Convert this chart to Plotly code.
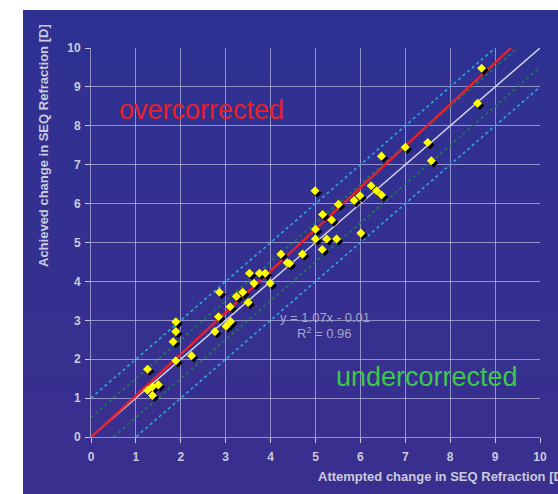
import plotly.graph_objects as go

# ---- data ----
attempted = [1.26, 1.26, 1.37, 1.50, 1.37, 1.89, 1.83, 1.89, 1.89, 2.24,
             2.76, 2.84, 2.86, 3.01, 3.11, 3.10, 3.24, 3.38, 3.50, 3.53,
             3.63, 3.75, 3.88, 3.99, 4.23, 4.37, 4.42, 4.71, 4.99, 5.00,
             5.00, 5.15, 5.16, 5.25, 5.36, 5.47, 5.51, 5.86, 5.99, 6.01,
             6.24, 6.36, 6.47, 6.47, 7.00, 7.50, 7.58, 8.61, 8.70]
achieved = [1.74, 1.20, 1.29, 1.34, 1.07, 1.96, 2.45, 2.71, 2.96, 2.09,
            2.71, 3.09, 3.72, 2.85, 2.97, 3.35, 3.61, 3.72, 3.46, 4.21,
            3.95, 4.21, 4.21, 3.95, 4.70, 4.48, 4.46, 4.70, 6.33, 5.34,
            5.09, 4.82, 5.72, 5.09, 5.58, 5.09, 5.98, 6.08, 6.20, 5.24,
            6.46, 6.33, 6.22, 7.22, 7.45, 7.57, 7.10, 8.58, 9.48]
line_x = [0, 10]
slope, intercept = 1.07, -0.01
inner_band = 0.5
outer_band = 1.0
tick_vals = list(range(0, 11))

GRID = "rgba(210,210,240,0.6)"
TXT = "#CACADC"
FONT = "Liberation Sans"

fig = go.Figure()

# reference bands
for off, col in [(outer_band, "#2AA8E0"), (-outer_band, "#2AA8E0"),
                 (inner_band, "#1E7A55"), (-inner_band, "#1E7A55")]:
    fig.add_trace(go.Scatter(x=line_x, y=[v + off for v in line_x], mode="lines",
                             line=dict(color=col, width=1.6, dash="dot"),
                             hoverinfo="skip", showlegend=False))

# identity line
fig.add_trace(go.Scatter(x=line_x, y=line_x, mode="lines",
                         line=dict(color="#D2D2EA", width=1.4),
                         hoverinfo="skip", showlegend=False))
# regression line
fig.add_trace(go.Scatter(x=line_x, y=[slope * v + intercept for v in line_x], mode="lines",
                         line=dict(color="#E8202A", width=2.4),
                         hoverinfo="skip", showlegend=False))

# marker shadows
fig.add_trace(go.Scatter(x=[v + 0.05 for v in attempted], y=[v - 0.055 for v in achieved],
                         mode="markers",
                         marker=dict(symbol="diamond", size=7, color="#000000"),
                         hoverinfo="skip", showlegend=False))
# markers
fig.add_trace(go.Scatter(x=attempted, y=achieved, mode="markers",
                         marker=dict(symbol="diamond", size=7, color="#FFFF00"),
                         showlegend=False))

axis_common = dict(range=[0, 10], tickvals=tick_vals, showgrid=True, gridcolor=GRID,
                   gridwidth=1, zeroline=False, showline=True, linecolor=GRID, linewidth=1,
                   ticks="outside", ticklen=5, tickcolor=TXT,
                   tickfont=dict(family=FONT, size=12, color=TXT, weight="bold"))

fig.update_xaxes(**axis_common, ticklabelstandoff=4)
fig.update_yaxes(**axis_common, ticklabelstandoff=2)

# dark background panel with a subtle vertical gradient
top_rgb = (46, 49, 146)
bot_rgb = (58, 47, 142)
n_bands = 24
y_top_px, y_bot_px = 10, 500
for i in range(n_bands):
    t = i / (n_bands - 1)
    c = tuple(round(top_rgb[k] + (bot_rgb[k] - top_rgb[k]) * t) for k in range(3))
    p0 = y_top_px + (y_bot_px - y_top_px) * i / n_bands
    p1 = y_top_px + (y_bot_px - y_top_px) * (i + 1) / n_bands + 1
    fig.add_shape(type="rect", xref="paper", yref="paper",
                  x0=(23 - 91) / 449, x1=(570 - 91) / 449,
                  y0=(437 - p1) / 389, y1=(437 - p0) / 389,
                  fillcolor="rgb(%d,%d,%d)" % c, line=dict(width=0), layer="below")

fig.add_annotation(text="<b>Attempted change in SEQ Refraction [D]</b>", xref="paper", yref="paper",
                   x=(316 - 91) / 449, y=(437 - 476) / 389, xanchor="left", yanchor="middle",
                   showarrow=False, font=dict(family=FONT, size=13, color=TXT))
fig.add_annotation(text="<b>Achieved change in SEQ Refraction [D]</b>", xref="paper", yref="paper",
                   x=(43 - 91) / 449, y=(437 - 146) / 389, xanchor="center", yanchor="middle",
                   textangle=-90, showarrow=False,
                   font=dict(family=FONT, size=13, color=TXT))

fig.add_annotation(text="overcorrected", x=2.47, y=8.4, showarrow=False,
                   font=dict(family=FONT, size=27, color="#E8202A"))
fig.add_annotation(text="undercorrected", x=7.48, y=1.54, showarrow=False,
                   font=dict(family=FONT, size=27, color="#3CC84A"))
fig.add_annotation(text="y = 1.07x - 0.01", x=5.21, y=3.06, showarrow=False,
                   font=dict(family=FONT, size=13, color="#A6A6C6"))
fig.add_annotation(text="R<sup>2</sup> = 0.96", x=5.21, y=2.67, showarrow=False,
                   font=dict(family=FONT, size=13, color="#A6A6C6"))

fig.update_layout(width=558, height=494, paper_bgcolor="white", plot_bgcolor="rgba(0,0,0,0)",
                  margin=dict(l=91, r=18, t=48, b=57, pad=0),
                  showlegend=False)

fig.write_html("out.html", config={"displayModeBar": False},
               post_script="document.body.style.margin='0';document.body.style.overflow='hidden';")
